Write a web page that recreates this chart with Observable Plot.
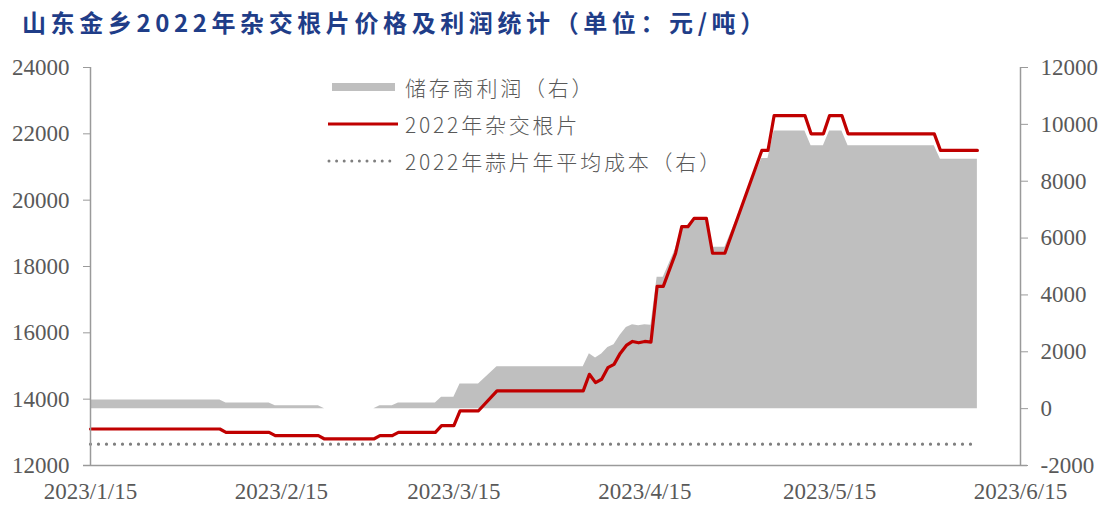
<!DOCTYPE html>
<html>
<head>
<meta charset="utf-8">
<script src="https://cdn.jsdelivr.net/npm/d3@7"></script>
<script src="https://cdn.jsdelivr.net/npm/@observablehq/plot@0.6"></script>
<style>
  html, body { margin: 0; padding: 0; background: #fff; }
  #wrap { position: relative; width: 1107px; height: 507px; overflow: hidden; background: #fff; }
  #title { position: absolute; left: 22px; top: 6px; font-family: "Noto Sans CJK SC", sans-serif; font-weight: 700;
           font-size: 24px; letter-spacing: 4.6px; color: #1f3d88; white-space: nowrap; line-height: 32px; }
  #chart { position: absolute; left: 0; top: 45px; }
  .leg { position: absolute; left: 0; top: 0; font-family: "Noto Sans CJK SC", sans-serif; font-weight: 300;
         font-size: 21px; letter-spacing: 2.8px; color: #595959; white-space: nowrap; }
  .leg .row { position: absolute; height: 30px; line-height: 30px; }
  .leg svg { position: absolute; }
</style>
</head>
<body>
<div id="wrap">
  <div id="title">山东金乡2022年杂交根片价格及利润统计（单位：元/吨）</div>
  <div id="chart"></div>
  <div class="leg" id="legend"></div>
</div>
<script>
// ---- data ----
const dates = ["2023-01-15","2023-02-05","2023-02-06","2023-02-13","2023-02-14","2023-02-21","2023-02-22","2023-03-02",
  "2023-03-03","2023-03-05","2023-03-06","2023-03-12","2023-03-13","2023-03-15","2023-03-16","2023-03-19","2023-03-22",
  "2023-04-05","2023-04-06","2023-04-07","2023-04-08","2023-04-09","2023-04-10","2023-04-11","2023-04-12","2023-04-13",
  "2023-04-14","2023-04-15","2023-04-16","2023-04-17","2023-04-18","2023-04-20","2023-04-21","2023-04-22","2023-04-23",
  "2023-04-25","2023-04-26","2023-04-28","2023-05-04","2023-05-05","2023-05-06","2023-05-11","2023-05-12","2023-05-14",
  "2023-05-15","2023-05-17","2023-05-18","2023-06-01","2023-06-02","2023-06-08"];
const price = [13100,13100,13000,13000,12900,12900,12800,12800,
  12900,12900,13000,13000,13200,13200,13650,13650,14250,
  14250,14750,14500,14600,14950,15050,15380,15620,15740,
  15700,15740,15720,17400,17400,18400,19200,19200,19450,
  19450,18400,18400,21500,21500,22550,22550,22000,22000,
  22550,22550,22000,22000,21500,21500];
const profit = [300,300,200,200,100,100,0,0,
  100,100,200,200,400,400,870,870,1470,
  1470,1930,1780,1920,2150,2250,2580,2850,2950,
  2920,2950,2930,4620,4620,5620,6420,6420,6680,
  6680,5680,5680,8800,8800,9770,9770,9250,9250,
  9770,9770,9250,9250,8770,8770];
const costDates = ["2023-01-15","2023-06-07"];
const cost = [-1250,-1250];
const leftTicks = [12000,14000,16000,18000,20000,22000,24000];
const rightTicks = [-2000,0,2000,4000,6000,8000,10000,12000];
const xTicks = ["2023-01-15","2023-02-15","2023-03-15","2023-04-15","2023-05-15","2023-06-15"];
const legendLabels = ["储存商利润（右）","2022年杂交根片","2022年蒜片年平均成本（右）"];

// ---- build ----
const parse = s => new Date(s + "T00:00:00Z");
const rows = dates.map((d, i) => ({date: parse(d), price: price[i], profit: profit[i]}));
const costRows = costDates.map((d, i) => ({date: parse(d), cost: cost[i]}));
// right axis (-2000..12000) mapped onto left axis (12000..24000)
const toL = r => (r + 16000) * 6 / 7;
const fromL = v => v * 7 / 6 - 16000;
const fmtDate = d => `${d.getUTCFullYear()}/${d.getUTCMonth() + 1}/${d.getUTCDate()}`;
const axisColor = "#9a9a9a";
const textColor = "#595959";

const chart = Plot.plot({
  width: 1107,
  height: 462,
  marginTop: 22,
  marginBottom: 42,
  marginLeft: 90,
  marginRight: 87,
  style: {fontFamily: "'Liberation Serif', 'Times New Roman', serif", fontSize: "23px", background: "#fff", overflow: "visible"},
  x: {type: "utc", domain: [parse("2023-01-15"), parse("2023-06-15")]},
  y: {domain: [12000, 24000]},
  marks: [
    Plot.areaY(rows, {x: "date", y1: () => toL(0), y2: d => toL(d.profit), fill: "#bfbfbf"}),
    Plot.lineY(costRows, {x: "date", y: d => toL(d.cost), stroke: "#7f7f7f", strokeWidth: 3.2,
      strokeDasharray: "0,8", strokeLinecap: "round"}),
    Plot.lineY(rows, {x: "date", y: "price", stroke: "#c00000", strokeWidth: 3.2, strokeLinejoin: "round"}),
    Plot.ruleX([parse("2023-01-15")], {stroke: axisColor, strokeWidth: 1.5}),
    Plot.ruleX([parse("2023-06-15")], {stroke: axisColor, strokeWidth: 1.5}),
    Plot.ruleY([12000], {stroke: axisColor, strokeWidth: 1.5, insetLeft: -7, insetRight: -7}),
    Plot.axisY(leftTicks, {anchor: "left", tickSize: 7, tickPadding: 14, stroke: axisColor, fill: textColor,
      tickFormat: d => String(d), label: null}),
    Plot.axisY(rightTicks.map(toL), {anchor: "right", tickSize: 7, tickPadding: 13, stroke: axisColor, fill: textColor,
      tickFormat: v => String(Math.round(fromL(v))), label: null}),
    Plot.axisX(xTicks.map(parse), {anchor: "bottom", tickSize: 0, tickPadding: 17, fill: textColor,
      tickFormat: fmtDate, label: null})
  ]
});
document.getElementById("chart").appendChild(chart);

// ---- legend ----
const leg = document.getElementById("legend");
const legRows = [
  {y: 87, label: legendLabels[0], sample: `<line x1="332" x2="395" y1="0" y2="0" stroke="#bfbfbf" stroke-width="8"/>`},
  {y: 124, label: legendLabels[1], sample: `<line x1="328" x2="398" y1="0" y2="0" stroke="#c00000" stroke-width="3.2"/>`},
  {y: 161, label: legendLabels[2], sample: `<line x1="329" x2="397" y1="0" y2="0" stroke="#7f7f7f" stroke-width="3" stroke-dasharray="0,7.6" stroke-linecap="round"/>`}
];
legRows.forEach(r => {
  const s = document.createElementNS("http://www.w3.org/2000/svg", "svg");
  s.setAttribute("width", "420"); s.setAttribute("height", "12");
  s.setAttribute("viewBox", "0 -6 420 12");
  s.style.left = "0px"; s.style.top = (r.y - 6) + "px";
  s.innerHTML = r.sample;
  leg.appendChild(s);
  const t = document.createElement("div");
  t.className = "row";
  t.style.left = "405px"; t.style.top = (r.y - 15) + "px";
  t.textContent = r.label;
  leg.appendChild(t);
});
</script>
</body>
</html>
